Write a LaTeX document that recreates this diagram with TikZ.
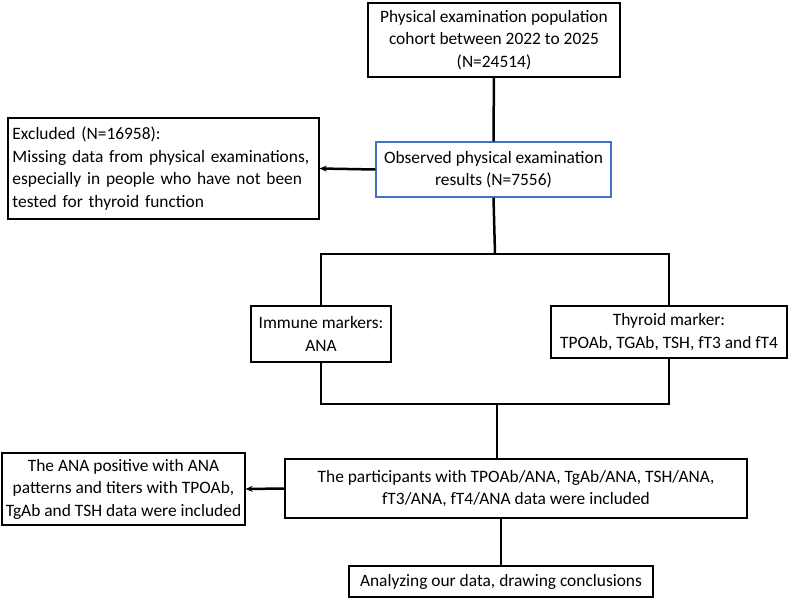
\documentclass[tikz,border=0pt]{standalone}
\usepackage{fontspec}
\setmainfont{Carlito}
\usepackage{xcolor}
\usepackage{tikz}
\usetikzlibrary{arrows.meta,positioning,calc}
\definecolor{obsblue}{RGB}{68,114,196}

\begin{document}
\begin{tikzpicture}[x=1pt,y=-1pt,>={Stealth[length=7pt,width=6pt]},
  box/.style={draw,line width=1.2pt,align=center,inner xsep=2pt,inner ysep=0pt,
    font=\fontsize{17.4}{22.5}\selectfont},
  link/.style={line width=2.5pt}]
\useasboundingbox (0,0) rectangle (790,600);
% boxes
\node[box,minimum width=252pt,minimum height=74pt](cohort) at (494,40)
  {Physical examination population\\cohort between 2022 to 2025\\(N=24514)};
\node[box,draw=obsblue,minimum width=235pt,minimum height=55pt](observed) at (493.5,169.5)
  {Observed physical examination\\results (N=7556)};
\node[box,align=left,text width=302pt,inner xsep=4.5pt,minimum height=101pt](excluded) at (163.5,168.5)
  {Excluded (N=16958):\\Missing data from physical examinations,\\especially in people who have not been\\tested for thyroid function};
\node[box,minimum width=140pt,minimum height=56pt](immune) at (321,334)
  {Immune markers:\\ANA};
\node[box,minimum width=236pt,minimum height=52pt](thyroid) at (669,332)
  {Thyroid marker:\\TPOAb, TGAb, TSH, fT3 and fT4};
\node[box,minimum width=462pt,minimum height=59pt](participants) at (516,488.5)
  {The participants with TPOAb/ANA, TgAb/ANA, TSH/ANA,\\fT3/ANA, fT4/ANA data were included};
\node[box,minimum width=243pt,minimum height=72pt](anapos) at (123.5,489)
  {The ANA positive with ANA\\patterns and titers with TPOAb,\\TgAb and TSH data were included};
\node[box,minimum width=304pt,minimum height=31pt](conclude) at (501,581.5)
  {Analyzing our data, drawing conclusions};
% connectors
\coordinate (split) at (495,254);
\coordinate (merge) at (497,404);
\draw[link](cohort)--(observed);
\draw[link,->](observed.west)--(excluded.east);
\draw[link](observed.south)--(split);
\draw[link](immune.north)|-(split)-|(thyroid.north);
\draw[link](immune.south)|-(merge)-|(thyroid.south);
\draw[link](merge)--(merge|-participants.north);
\draw[link,->](participants.west)--(anapos.east);
\draw[link](conclude.north|-participants.south)--(conclude.north);
\end{tikzpicture}
\end{document}
